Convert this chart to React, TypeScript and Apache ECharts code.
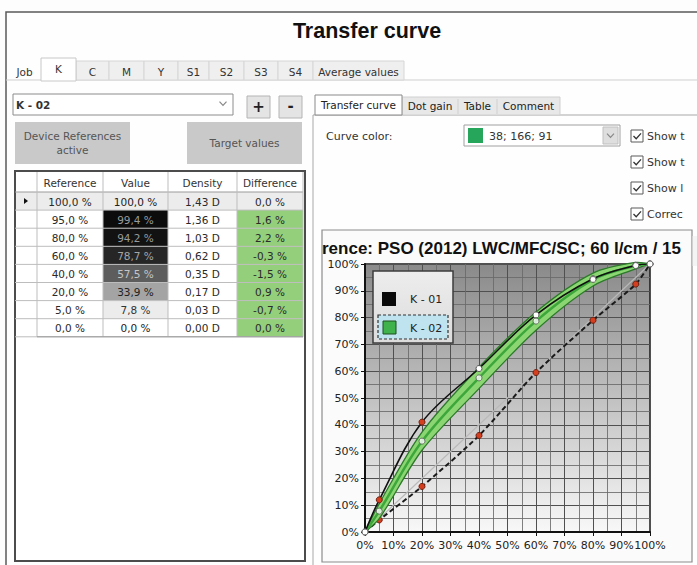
import React, { useEffect, useRef } from "react";
import * as echarts from "echarts";

// ---------------- Data ----------------
const mainTabs = ["Job", "K", "C", "M", "Y", "S1", "S2", "S3", "S4", "Average values"];
const subTabs = ["Transfer curve", "Dot gain", "Table", "Comment"];
const tableHeaders = ["Reference", "Value", "Density", "Difference"];
const referenceCol = ["100,0 %", "95,0 %", "80,0 %", "60,0 %", "40,0 %", "20,0 %", "5,0 %", "0,0 %"];
const valueCol = ["100,0 %", "99,4 %", "94,2 %", "78,7 %", "57,5 %", "33,9 %", "7,8 %", "0,0 %"];
const densityCol = ["1,43 D", "1,36 D", "1,03 D", "0,62 D", "0,35 D", "0,17 D", "0,03 D", "0,00 D"];
const differenceCol = ["0,0 %", "1,6 %", "2,2 %", "-0,3 %", "-1,5 %", "0,9 %", "-0,7 %", "0,0 %"];
const checkboxLabels = ["Show t", "Show t", "Show l", "Correc"];
const curveColorText = "38; 166; 91";
const legendNames = ["K - 01", "K - 02"];
const chartTitle = "rence: PSO (2012) LWC/MFC/SC; 60 l/cm / 15";
const pageTitle = "Transfer curve";

const tonePoints = [0, 5, 20, 40, 60, 80, 95, 100];
const k01Values = [0, 12, 41, 61, 81, 94.5, 99.5, 100];
const k02Values = [0, 7.8, 33.9, 57.5, 78.7, 94.2, 99.4, 100];
const k02Tolerance = [0, 2.8, 3.4, 4, 3.4, 2.4, 1.2, 0];
const correctionValues = [0, 4.5, 17, 36, 59.5, 79, 92.5, 100];
const k01Flagged = [false, true, true, false, false, false, false, false];
const correctionFlagged = [false, true, true, true, true, true, true, false];
const diagonalValues = [0, 100];

// ---------------- Styles / layout ----------------
const UI_FONT = "DejaVu Sans";
const valueFills = ["#ebebeb", "#0c0c0c", "#121212", "#262626", "#5d5d5d", "#a4a4a4", "#ececec", "#ffffff"];
const valueTextColors = ["#222", "#9a9a9a", "#9a9a9a", "#a6a6a6", "#c6c6c6", "#222", "#333", "#222"];
const tabEdges = [8, 41, 76, 109, 144, 178, 209, 244, 278, 313, 404];
const colEdges = [15, 37, 103, 168, 237, 303];
const subTabEdges = [315, 402, 458, 497, 560];

function rect(x: number, y: number, w: number, h: number, fill: string, stroke?: string, lw = 1, z = 1, dash?: number[]) {
  return {
    type: "rect",
    silent: true,
    z,
    shape: { x, y, width: w, height: h },
    style: { fill, stroke: stroke || null, lineWidth: stroke ? lw : 0, lineDash: dash || null },
  };
}
function line(x1: number, y1: number, x2: number, y2: number, stroke: string, lw = 1, z = 2) {
  return { type: "line", silent: true, z, shape: { x1, y1, x2, y2 }, style: { stroke, lineWidth: lw } };
}
function txt(x: number, y: number, t: string, o: any = {}) {
  const align = o.align || "left";
  return {
    type: "text",
    silent: true,
    z: o.z || 3,
    x,
    y,
    style: {
      text: t,
      fill: o.color || "#222",
      fontSize: o.size || 11,
      fontFamily: o.family || UI_FONT,
      fontWeight: o.weight || "normal",
      align,
      textAlign: align,
      verticalAlign: "middle",
      textVerticalAlign: "middle",
    },
  };
}
function chevron(cx: number, cy: number, color = "#777", z = 3) {
  return {
    type: "polyline",
    silent: true,
    z,
    shape: { points: [[cx - 3.5, cy - 1.8], [cx, cy + 1.8], [cx + 3.5, cy - 1.8]] },
    style: { stroke: color, lineWidth: 1.2, fill: null },
  };
}

function buildGraphics() {
  const g: any[] = [];
  g.push(rect(6, 12, 720, 580, "#fefefe", "#5a5a5a", 1.5, 0));
  g.push(txt(367, 31, pageTitle, { align: "center", size: 21.5, weight: "bold", family: "Liberation Sans", color: "#111" }));

  // main tabs
  g.push(line(6, 80, 697, 80, "#cfcfcf", 1, 1));
  for (let i = 0; i < mainTabs.length; i++) {
    const x0 = tabEdges[i];
    const x1 = tabEdges[i + 1];
    if (i === 1) {
      g.push(rect(x0, 58, x1 - x0, 23, "#ffffff", "#c8c8c8", 1, 2));
    } else if (i > 0) {
      g.push(rect(x0, 61, x1 - x0, 19, "#efefef", "#d6d6d6", 1, 1));
    }
    g.push(txt((x0 + x1) / 2, i === 1 ? 69 : 72, mainTabs[i], { align: "center", size: 10.5, color: "#333", z: 4 }));
  }

  // combo box
  g.push(rect(13, 94, 220, 21, "#ffffff", "#8c8c8c", 1, 2));
  g.push(txt(16, 104.5, "K - 02", { size: 10.5, weight: "bold", color: "#333" }));
  g.push(chevron(223, 103.5, "#888"));
  g.push(rect(247, 96, 23, 22, "#e4e4e4", "#b4b4b4", 1, 2));
  g.push(txt(258.5, 107, "+", { align: "center", size: 15, weight: "bold", color: "#222" }));
  g.push(rect(279, 96, 23, 22, "#e4e4e4", "#b4b4b4", 1, 2));
  g.push(txt(290.5, 106, "-", { align: "center", size: 15, weight: "bold", color: "#222" }));
  g.push(rect(15, 122, 115, 42, "#c9c9c9", undefined, 1, 2));
  g.push(txt(72.5, 136, "Device References", { align: "center", size: 10.5, color: "#555" }));
  g.push(txt(72.5, 150, "active", { align: "center", size: 10.5, color: "#555" }));
  g.push(rect(187, 122, 115, 42, "#c9c9c9", undefined, 1, 2));
  g.push(txt(244.5, 143, "Target values", { align: "center", size: 10.5, color: "#555" }));

  // table
  g.push(rect(15, 171, 290, 390, "#ffffff", "#4c4c4c", 2, 2));
  const headTop = 172;
  const headBottom = 192;
  const rowH = 18.1;
  const nRows = referenceCol.length;
  const tableBottom = headBottom + rowH * nRows;
  g.push(rect(colEdges[0] + 1, headBottom, colEdges[5] - colEdges[0] - 1, rowH, "#ececec", undefined, 1, 3));
  for (let r = 0; r < nRows; r++) {
    const y = headBottom + r * rowH;
    if (r > 0) {
      g.push(rect(colEdges[2], y, colEdges[3] - colEdges[2], rowH, valueFills[r], undefined, 1, 3));
      g.push(rect(colEdges[4], y, colEdges[5] - colEdges[4], rowH, "#94cf7b", undefined, 1, 3));
    }
    const cy = y + rowH / 2 + 0.5;
    const cols = [referenceCol[r], valueCol[r], densityCol[r], differenceCol[r]];
    for (let c = 0; c < 4; c++) {
      const cx = (colEdges[c + 1] + colEdges[c + 2]) / 2;
      g.push(
        txt(cx, cy, cols[c], {
          align: "center",
          size: 10.5,
          color: c === 1 ? valueTextColors[r] : "#2a2a2a",
          z: 5,
        })
      );
    }
  }
  g.push({
    type: "polygon",
    silent: true,
    z: 5,
    shape: { points: [[24, 198], [28, 201], [24, 204]] },
    style: { fill: "#111" },
  });
  for (let c = 0; c < 4; c++) {
    const cx = (colEdges[c + 1] + colEdges[c + 2]) / 2;
    g.push(txt(cx, (headTop + headBottom) / 2 + 1, tableHeaders[c], { align: "center", size: 10.5, color: "#333", z: 5 }));
  }
  for (let r = 0; r <= nRows; r++) {
    const y = headBottom + r * rowH;
    g.push(line(colEdges[0], y, colEdges[5], y, r === 0 ? "#9a9a9a" : "#bdbdbd", 1, 4));
  }
  for (let c = 1; c < colEdges.length; c++) {
    g.push(line(colEdges[c], headTop, colEdges[c], tableBottom, "#bdbdbd", 1, 4));
  }
  g.push(line(colEdges[1], tableBottom, colEdges[5], tableBottom, "#9a9a9a", 1, 4));

  // right page
  g.push(line(313, 115, 313, 565, "#a8a8a8", 1, 2));
  g.push(line(313, 115, 697, 115, "#a8a8a8", 1, 2));
  g.push(rect(subTabEdges[1], 97, subTabEdges[4] - subTabEdges[1], 18, "#e8e8e8", "#d0d0d0", 1, 2));
  g.push(rect(subTabEdges[0], 95, subTabEdges[1] - subTabEdges[0], 20, "#ffffff", "#8a8a8a", 1, 3));
  for (let i = 0; i < subTabs.length; i++) {
    g.push(
      txt((subTabEdges[i] + subTabEdges[i + 1]) / 2, i === 0 ? 104.5 : 106, subTabs[i], {
        align: "center",
        size: 10.5,
        color: "#222",
        z: 5,
      })
    );
  }
  for (let i = 2; i < subTabEdges.length - 1; i++) g.push(line(subTabEdges[i], 99, subTabEdges[i], 114, "#d0d0d0", 1, 4));

  g.push(txt(326, 136, "Curve color:", { size: 11, color: "#333" }));
  g.push(rect(464, 125, 156, 21, "#ffffff", "#a0a0a0", 1, 2));
  g.push(rect(468, 128, 15, 15, "rgb(38,166,91)", undefined, 1, 3));
  g.push(txt(489, 136, curveColorText, { size: 11, color: "#333" }));
  g.push(rect(603, 127, 15, 17, "#dedede", "#c0c0c0", 1, 3));
  g.push(chevron(610.5, 135.5, "#888", 4));

  const cbY = [136, 162, 188, 214];
  for (let i = 0; i < checkboxLabels.length; i++) {
    const y = cbY[i];
    g.push(rect(631, y - 6, 12, 12, "#ffffff", "#5a5a5a", 1, 3));
    g.push({
      type: "polyline",
      silent: true,
      z: 4,
      shape: { points: [[633.5, y], [636.2, y + 2.8], [641, y - 2.6]] },
      style: { stroke: "#333", lineWidth: 1.3, fill: null },
    });
    g.push(txt(647, y, checkboxLabels[i], { size: 11, color: "#333" }));
  }

  // chart frame
  g.push(rect(322, 230, 370, 332, "#fbfbfb", "#8c8c8c", 1.2, 1));
  g.push(txt(322, 248, chartTitle, { size: 17, weight: "bold", family: "Liberation Sans", color: "#111", z: 5 }));
  g.push(rect(692.6, 236, 6, 30, "#f4f4f4", undefined, 1, 30));

  // legend
  g.push({
    type: "rect",
    silent: true,
    z: 20,
    shape: { x: 373, y: 271, width: 80, height: 72 },
    style: {
      fill: new echarts.graphic.LinearGradient(0, 0, 0, 1, [
        { offset: 0, color: "#ededed" },
        { offset: 1, color: "#dcdcdc" },
      ]),
      stroke: "#3c3c3c",
      lineWidth: 1.5,
    },
  });
  g.push(rect(382, 292, 14, 14, "#0a0a0a", undefined, 1, 21));
  g.push(txt(410, 299, legendNames[0], { size: 11, color: "#222", z: 22 }));
  g.push(rect(378, 315, 70, 24, "#bfe3ef", "#333", 1.2, 21, [3, 2]));
  g.push(rect(383, 321, 13, 13, "#3fb24c", "#1f4f1f", 1, 22));
  g.push(txt(410, 328, legendNames[1], { size: 11, color: "#222", z: 22 }));
  return g;
}

function pts(ys: number[], flags?: boolean[]) {
  return tonePoints.map((x, i) => {
    const flagged = flags ? flags[i] : false;
    return {
      value: [x, ys[i]],
      itemStyle: flagged
        ? { color: "#d4401f", borderColor: "#6e1e0f", borderWidth: 1 }
        : { color: "#ffffff", borderColor: "#555", borderWidth: 1 },
    };
  });
}

export default function App() {
  const ref = useRef<HTMLDivElement>(null);
  useEffect(() => {
    if (!ref.current) return;
    const chart = echarts.init(ref.current, undefined, { renderer: "svg" });
    const axisCommon = {
      type: "value",
      min: 0,
      max: 100,
      interval: 10,
      z: 4,
      axisLine: { show: true, lineStyle: { color: "#111", width: 2 } },
      axisTick: { show: true, length: 4, inside: false, lineStyle: { color: "#111", width: 1 } },
      axisLabel: { formatter: "{value}%", fontFamily: UI_FONT, fontSize: 11, color: "#222", margin: 6 },
      splitLine: { show: true, lineStyle: { color: "#505050", width: 1 } },
      minorTick: { show: false, splitNumber: 2 },
      minorSplitLine: { show: true, lineStyle: { color: "#6a6a6a", width: 1, opacity: 0.85 } },
    };
    const SMOOTH = 0.35;
    const option: any = {
      animation: false,
      backgroundColor: "transparent",
      graphic: { elements: buildGraphics() },
      grid: {
        left: 365,
        top: 264,
        width: 285,
        height: 268,
        show: true,
        z: 3,
        backgroundColor: new echarts.graphic.LinearGradient(0, 0, 0, 1, [
          { offset: 0, color: "#8a8a8a" },
          { offset: 1, color: "#f8f8f8" },
        ]),
        borderColor: "#1a1a1a",
        borderWidth: 1.5,
      },
      xAxis: { ...axisCommon, axisLabel: { ...axisCommon.axisLabel, margin: 8 } },
      yAxis: { ...axisCommon },
      series: [
        {
          name: "diagonal",
          type: "line",
          z: 6,
          data: diagonalValues.map((v) => [v, v]),
          symbol: "none",
          lineStyle: { color: "#b9b9b9", width: 1.2 },
        },
        {
          name: "correction",
          type: "line",
          z: 7,
          smooth: 0.25,
          data: pts(correctionValues, correctionFlagged),
          symbol: "circle",
          symbolSize: 6,
          lineStyle: { color: "#1a1a1a", width: 2, type: [5, 3] },
        },
        {
          name: "band",
          type: "custom",
          z: 8,
          clip: false,
          data: [[0, 0]],
          encode: { x: 0, y: 1 },
          renderItem: (_params: any, api: any) => {
            const upper = tonePoints.map((x, i) => api.coord([x, k02Values[i] + k02Tolerance[i]]));
            const lower = tonePoints.map((x, i) => api.coord([x, k02Values[i] - k02Tolerance[i]])).reverse();
            return {
              type: "polygon",
              shape: { points: upper.concat(lower), smooth: 0.3 },
              style: { fill: "#8bd673", stroke: "#2c7a2a", lineWidth: 1.3 },
            };
          },
        },
        {
          name: "band-center",
          type: "line",
          z: 10,
          smooth: SMOOTH,
          data: tonePoints.map((x, i) => [x, k02Values[i]]),
          symbol: "none",
          lineStyle: { color: "#3da73b", width: 2.5 },
        },
        {
          name: legendNames[0],
          type: "line",
          z: 11,
          smooth: SMOOTH,
          data: pts(k01Values, k01Flagged),
          symbol: "circle",
          symbolSize: 6,
          lineStyle: { color: "#111", width: 1.6 },
        },
        {
          name: legendNames[1],
          type: "scatter",
          z: 12,
          data: tonePoints.map((x, i) => [x, k02Values[i]]),
          symbol: "circle",
          symbolSize: 6,
          itemStyle: { color: "#ffffff", borderColor: "#555", borderWidth: 1 },
        },
      ],
    };
    chart.setOption(option);
    return () => chart.dispose();
  }, []);
  return (
    <div
      ref={ref}
      style={{ position: "absolute", left: 0, top: 0, width: 697, height: 565, background: "#fdfdfd" }}
    />
  );
}
